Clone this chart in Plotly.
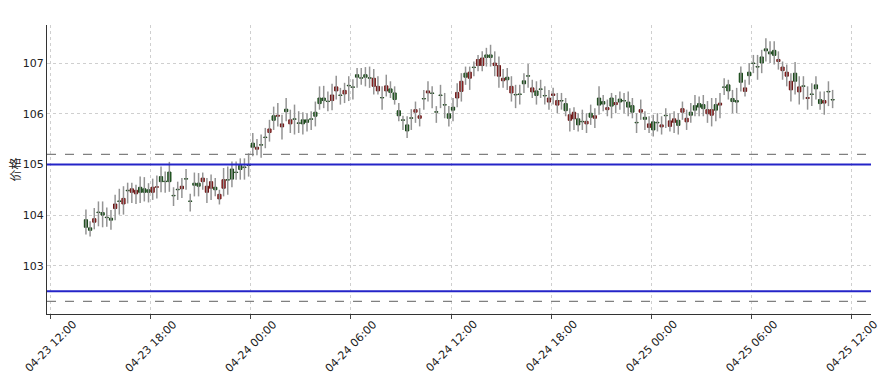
import pandas as pd
import plotly.graph_objects as go

# ---------------- data ----------------
start_time = "2024-04-23 14:07"
n_bars = 180
bar_freq = "15min"

opens = [
    103.91, 103.75, 103.86, 104.06, 104.05, 103.96, 103.94, 104.13, 104.28, 104.22,
    104.49, 104.45, 104.42, 104.55, 104.52, 104.50, 104.45, 104.55, 104.76, 104.67,
    104.85, 104.39, 104.51, 104.52, 104.72, 104.28, 104.63, 104.63, 104.66, 104.45,
    104.53, 104.55, 104.32, 104.53, 104.70, 104.91, 104.85, 104.98, 104.95, 104.99,
    105.42, 105.30, 105.39, 105.54, 105.63, 105.96, 105.95, 105.74, 106.09, 105.80,
    105.90, 105.82, 105.88, 105.88, 105.90, 106.03, 106.31, 106.31, 106.25, 106.26,
    106.45, 106.37, 106.39, 106.56, 106.53, 106.77, 106.71, 106.77, 106.71, 106.54,
    106.45, 106.32, 106.45, 106.49, 106.41, 106.06, 105.88, 105.78, 105.92, 106.03,
    105.91, 106.30, 106.41, 106.41, 106.04, 106.37, 106.18, 106.00, 106.13, 106.31,
    106.44, 106.80, 106.70, 106.92, 106.95, 106.95, 107.16, 107.16, 106.95, 106.74,
    106.65, 106.72, 106.41, 106.38, 106.39, 106.65, 106.75, 106.43, 106.45, 106.49,
    106.36, 106.23, 106.36, 106.17, 106.26, 106.20, 105.87, 105.90, 105.90, 105.85,
    105.80, 106.01, 105.91, 106.31, 106.24, 106.08, 106.31, 106.18, 106.29, 106.26,
    106.23, 106.16, 105.83, 106.03, 105.93, 105.73, 105.84, 105.83, 105.74, 105.97,
    105.75, 105.83, 105.87, 106.03, 105.84, 106.03, 106.16, 106.20, 106.18, 106.00,
    105.97, 106.18, 106.17, 106.53, 106.57, 106.30, 106.26, 106.80, 106.44, 106.82,
    107.00, 106.93, 107.12, 107.28, 107.22, 107.25, 107.03, 106.85, 106.74, 106.47,
    106.80, 106.43, 106.55, 106.30, 106.39, 106.57, 106.28, 106.21, 106.44, 106.28,
]
highs = [
    104.11, 103.88, 104.14, 104.27, 104.27, 104.15, 104.10, 104.40, 104.52, 104.57,
    104.64, 104.64, 104.60, 104.76, 104.75, 104.63, 104.72, 104.78, 104.96, 104.86,
    105.05, 104.55, 104.66, 104.73, 104.91, 104.42, 104.84, 104.83, 104.84, 104.73,
    104.80, 104.73, 104.50, 104.93, 104.96, 105.06, 105.06, 105.12, 105.12, 105.22,
    105.62, 105.50, 105.59, 105.72, 105.88, 106.14, 106.21, 105.98, 106.31, 106.08,
    106.18, 106.05, 106.03, 106.01, 106.05, 106.24, 106.54, 106.55, 106.44, 106.59,
    106.75, 106.51, 106.61, 106.74, 106.68, 106.90, 106.90, 106.92, 106.93, 106.88,
    106.74, 106.54, 106.77, 106.64, 106.54, 106.21, 105.96, 105.95, 106.09, 106.24,
    106.11, 106.47, 106.64, 106.54, 106.15, 106.57, 106.41, 106.15, 106.31, 106.60,
    106.80, 106.93, 106.93, 107.03, 107.16, 107.23, 107.30, 107.36, 107.23, 107.13,
    106.88, 106.90, 106.74, 106.57, 106.57, 106.80, 106.98, 106.67, 106.64, 106.67,
    106.54, 106.47, 106.51, 106.41, 106.41, 106.31, 106.11, 106.13, 106.01, 106.08,
    106.01, 106.18, 106.11, 106.54, 106.37, 106.28, 106.41, 106.37, 106.44, 106.41,
    106.44, 106.31, 106.01, 106.28, 106.05, 105.95, 105.98, 106.01, 105.95, 106.11,
    106.01, 106.05, 106.01, 106.24, 106.08, 106.21, 106.37, 106.34, 106.37, 106.25,
    106.31, 106.31, 106.41, 106.70, 106.67, 106.47, 106.51, 106.93, 106.67, 107.00,
    107.16, 107.16, 107.26, 107.49, 107.43, 107.43, 107.23, 107.03, 106.97, 106.80,
    107.02, 106.74, 106.74, 106.54, 106.60, 106.74, 106.44, 106.44, 106.64, 106.47,
]
lows = [
    103.62, 103.58, 103.72, 103.78, 103.76, 103.77, 103.71, 103.90, 104.01, 104.01,
    104.23, 104.24, 104.22, 104.24, 104.27, 104.25, 104.30, 104.33, 104.45, 104.44,
    104.46, 104.18, 104.30, 104.34, 104.50, 104.07, 104.37, 104.37, 104.50, 104.24,
    104.30, 104.37, 104.21, 104.37, 104.40, 104.55, 104.70, 104.70, 104.70, 104.76,
    105.16, 105.18, 105.13, 105.32, 105.45, 105.68, 105.75, 105.49, 105.85, 105.62,
    105.59, 105.62, 105.59, 105.65, 105.68, 105.75, 106.08, 106.11, 106.05, 106.07,
    106.28, 106.18, 106.21, 106.25, 106.28, 106.51, 106.57, 106.54, 106.51, 106.38,
    106.38, 106.08, 106.34, 106.31, 106.18, 105.85, 105.68, 105.52, 105.68, 105.82,
    105.75, 106.08, 106.24, 106.11, 105.82, 106.11, 105.91, 105.75, 105.85, 106.13,
    106.24, 106.57, 106.47, 106.74, 106.84, 106.84, 106.93, 106.93, 106.74, 106.51,
    106.51, 106.47, 106.24, 106.11, 106.18, 106.41, 106.51, 106.31, 106.18, 106.31,
    106.18, 106.08, 106.18, 106.01, 106.08, 105.95, 105.65, 105.68, 105.65, 105.68,
    105.62, 105.78, 105.72, 105.98, 106.05, 105.95, 105.91, 106.01, 106.08, 106.01,
    105.95, 105.91, 105.62, 105.88, 105.68, 105.62, 105.55, 105.65, 105.59, 105.72,
    105.65, 105.62, 105.59, 105.88, 105.68, 105.82, 105.95, 105.95, 105.95, 105.82,
    105.75, 105.85, 105.91, 106.37, 106.28, 106.01, 106.01, 106.44, 106.34, 106.57,
    106.80, 106.67, 106.80, 107.03, 107.00, 106.97, 106.87, 106.67, 106.54, 106.24,
    106.38, 106.18, 106.28, 106.08, 106.15, 106.28, 106.08, 105.98, 106.15, 106.11,
]
closes = [
    103.76, 103.70, 103.93, 104.05, 104.00, 103.95, 103.90, 104.22, 104.27, 104.33,
    104.48, 104.52, 104.49, 104.45, 104.45, 104.45, 104.55, 104.56, 104.66, 104.66,
    104.66, 104.38, 104.50, 104.57, 104.71, 104.27, 104.59, 104.57, 104.73, 104.57,
    104.66, 104.50, 104.41, 104.70, 104.69, 104.71, 104.84, 104.90, 104.94, 104.98,
    105.34, 105.34, 105.38, 105.53, 105.70, 105.87, 105.97, 105.80, 106.04, 105.88,
    105.89, 105.81, 105.80, 105.83, 105.89, 105.95, 106.20, 106.26, 106.24, 106.37,
    106.53, 106.36, 106.46, 106.55, 106.52, 106.72, 106.70, 106.72, 106.70, 106.70,
    106.54, 106.31, 106.55, 106.42, 106.28, 105.96, 105.87, 105.66, 105.91, 106.08,
    105.96, 106.29, 106.45, 106.40, 106.03, 106.36, 106.17, 105.91, 106.07, 106.42,
    106.64, 106.72, 106.82, 106.91, 107.07, 107.10, 107.11, 107.11, 107.00, 106.95,
    106.70, 106.67, 106.54, 106.37, 106.38, 106.59, 106.74, 106.51, 106.36, 106.48,
    106.35, 106.31, 106.39, 106.26, 106.25, 106.06, 105.98, 106.03, 105.78, 105.84,
    105.85, 105.93, 105.96, 106.17, 106.19, 106.12, 106.15, 106.22, 106.23, 106.25,
    106.13, 106.03, 105.82, 106.08, 105.89, 105.80, 105.68, 105.82, 105.78, 105.96,
    105.86, 105.90, 105.77, 106.10, 105.91, 105.97, 106.07, 106.13, 106.10, 106.08,
    106.08, 106.07, 106.21, 106.52, 106.45, 106.24, 106.23, 106.62, 106.51, 106.75,
    106.99, 106.92, 107.00, 107.24, 107.18, 107.15, 107.07, 106.92, 106.82, 106.64,
    106.64, 106.53, 106.54, 106.32, 106.38, 106.49, 106.20, 106.26, 106.43, 106.27,
]

solid_levels = [105.0, 102.5]
dashed_levels = [105.2, 102.3]

x_ticks = ["2024-04-23 12:00", "2024-04-23 18:00", "2024-04-24 00:00", "2024-04-24 06:00",
           "2024-04-24 12:00", "2024-04-24 18:00", "2024-04-25 00:00", "2024-04-25 06:00",
           "2024-04-25 12:00"]
y_ticks = [103, 104, 105, 106, 107]
y_title = "价格"

# ---------------- figure ----------------
times = pd.date_range(start_time, periods=n_bars, freq=bar_freq)
bar_ms = pd.Timedelta(bar_freq).total_seconds() * 1000

wick_x, wick_y = [], []
for t, lo, hi in zip(times, lows, highs):
    wick_x += [t, t, None]
    wick_y += [lo, hi, None]

body_lo = [min(o, c) for o, c in zip(opens, closes)]
body_h = [abs(c - o) for o, c in zip(opens, closes)]
up = [c > o for o, c in zip(opens, closes)]
body_fill = ["#a81a1a" if u else "#1b641b" for u in up]
body_edge = ["#5e0808" if u else "#0b380b" for u in up]

fig = go.Figure()
fig.add_trace(go.Scatter(x=wick_x, y=wick_y, mode="lines",
                         line=dict(color="#949494", width=1.5),
                         hoverinfo="skip", showlegend=False))
fig.add_trace(go.Bar(
    x=times, y=body_h, base=body_lo, width=bar_ms * 0.78,
    marker=dict(color=body_fill, line=dict(color=body_edge, width=0.9)),
    showlegend=False))

for lv in solid_levels:
    fig.add_hline(y=lv, line=dict(color="#2424c8", width=2))
for lv in dashed_levels:
    fig.add_hline(y=lv, line=dict(color="#808080", width=1.2, dash="dash"))

font_family = "DejaVu Sans, Noto Sans CJK SC, sans-serif"
tick_font = dict(family=font_family, size=11, color="#222222")

# x tick labels centred on their ticks, rotated 45 degrees
for tv in x_ticks:
    fig.add_annotation(
        x=tv, xref="x", y=0, yref="paper", yshift=-32,
        text=pd.Timestamp(tv).strftime("%m-%d %H:%M"),
        textangle=-45, showarrow=False,
        xanchor="center", yanchor="middle", font=tick_font,
    )

# the browser page keeps an 8px body margin, so the figure is sized to fit inside it
fig.update_layout(
    width=882, height=373,
    margin=dict(l=39, r=19, t=17, b=67),
    paper_bgcolor="white", plot_bgcolor="white",
    font=tick_font,
    showlegend=False, barmode="overlay",
)
fig.update_xaxes(
    type="date", automargin=False,
    range=["2024-04-23 11:47", "2024-04-25 13:10"],
    tickvals=x_ticks, showticklabels=False,
    ticks="outside", ticklen=4, tickcolor="#444444",
    showgrid=True, gridcolor="#cfcfcf", griddash="dot", gridwidth=1,
    showline=True, linecolor="#333333", linewidth=1.3,
    zeroline=False,
)
fig.update_yaxes(
    range=[102.05, 107.75], automargin=False,
    tickvals=y_ticks,
    ticks="",
    showgrid=True, gridcolor="#cfcfcf", griddash="dot", gridwidth=1,
    showline=True, linecolor="#333333", linewidth=1.3,
    zeroline=False,
    title=dict(text=y_title, standoff=6, font=dict(size=12)),
)

fig.write_html("out.html")
